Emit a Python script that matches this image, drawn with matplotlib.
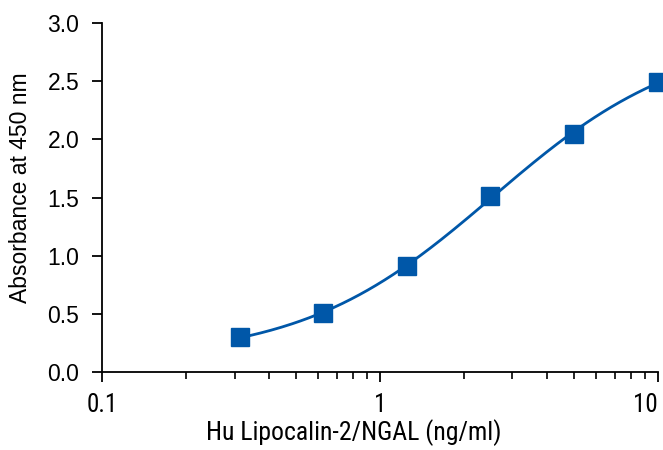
import numpy as np
import matplotlib
matplotlib.use('Agg')
from matplotlib import pyplot as plt
from matplotlib.ticker import LogLocator, FixedLocator, NullFormatter

conc = [0.3125, 0.625, 1.25, 2.5, 5.0, 10.0]
absorb = [0.30, 0.51, 0.91, 1.51, 2.05, 2.49]
yticks = [0.0, 0.5, 1.0, 1.5, 2.0, 2.5, 3.0]
xticks = [0.1, 1, 10]
xticklabels = ['0.1', '1', '10']

blue = '#0057a8'
narrow = ['Roboto Condensed', 'DejaVu Sans']
arial = ['Liberation Sans', 'DejaVu Sans']


def fourpl(x, p):
    a, b, c, d = p
    return d + (a - d) / (1.0 + (x / c) ** b)


# small gauss-newton fit for the 4PL curve
x = np.array(conc)
y = np.array(absorb)
p = np.array([0.1, 1.5, 3.0, 3.0])
for it in range(200):
    r = y - fourpl(x, p)
    J = np.zeros((len(x), 4))
    for k in range(4):
        dp = np.zeros(4)
        dp[k] = 1e-6 * max(abs(p[k]), 1)
        J[:, k] = (fourpl(x, p + dp) - fourpl(x, p)) / dp[k]
    step = np.linalg.lstsq(J.T @ J + 1e-3 * np.eye(4), J.T @ r, rcond=None)[0]
    p = p + step
    if np.max(np.abs(step)) < 1e-10:
        break

xs = np.logspace(np.log10(conc[0]), np.log10(conc[-1]), 200)

fig = plt.figure(figsize=(6.63, 4.5), dpi=100)
ax = fig.add_axes([0.154, 0.173, 0.838, 0.776])
ax.plot(xs, fourpl(xs, p), color=blue, lw=2, clip_on=False)
ax.plot(conc, absorb, 's', color=blue, ms=12.5, clip_on=False, zorder=3)

ax.set_xscale('log')
ax.set_xlim(0.1, 10)
ax.set_ylim(0, 3)
ax.set_yticks(yticks)
ax.set_yticklabels(['%.1f' % v for v in yticks], fontsize=16.5, family=arial)
ax.xaxis.set_major_locator(FixedLocator(xticks))
labs = ax.set_xticklabels(xticklabels, fontsize=18, family=narrow)
labs[-1].set_horizontalalignment('right')
ax.xaxis.set_minor_locator(LogLocator(base=10, subs=np.arange(2, 10)))
ax.xaxis.set_minor_formatter(NullFormatter())
ax.tick_params(axis='both', which='major', length=7, width=1.3, direction='out')
ax.tick_params(axis='y', which='major', pad=9.5)
ax.tick_params(axis='x', which='major', pad=8)
ax.tick_params(axis='x', which='minor', length=5, width=1.2, direction='out')

for s in ['top', 'right']:
    ax.spines[s].set_visible(False)
for s in ['left', 'bottom']:
    ax.spines[s].set_linewidth(1.3)

ax.set_ylabel('Absorbance at 450 nm', fontsize=16.5, family=arial)
ax.yaxis.set_label_coords(-0.126, 0.527)
ax.set_xlabel('Hu Lipocalin-2/NGAL (ng/ml)', fontsize=18.5, family=narrow)
ax.xaxis.set_label_coords(0.453, -0.135)

plt.savefig('out.png', dpi=100)
